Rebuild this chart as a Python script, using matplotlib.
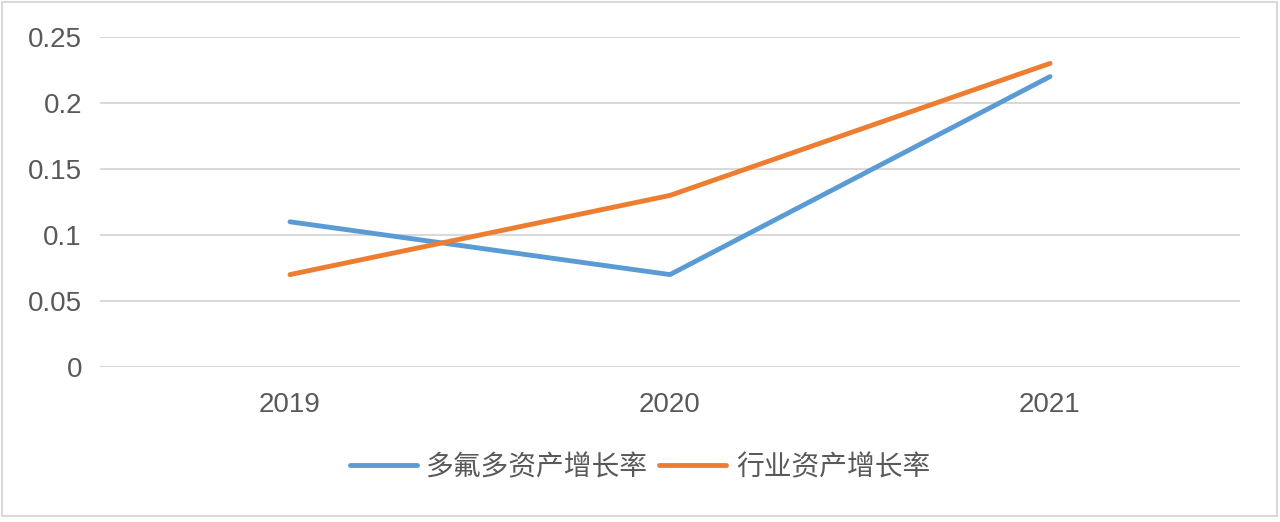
import matplotlib
matplotlib.use("Agg")
import matplotlib.pyplot as plt
from matplotlib.patches import Rectangle

plt.rcParams['font.family'] = ['Liberation Sans', 'Noto Sans CJK SC', 'DejaVu Sans']

years = ['2019', '2020', '2021']
dfd_growth = [0.11, 0.07, 0.22]
industry_growth = [0.07, 0.13, 0.23]
yticks = [0, 0.05, 0.1, 0.15, 0.2, 0.25]
ytick_labels = ['0', '0.05', '0.1', '0.15', '0.2', '0.25']

fig = plt.figure(figsize=(12.8, 5.22), dpi=100)
ax = fig.add_axes([100 / 1280, 155 / 522, 1140 / 1280, 330 / 522])

x = range(len(years))
ax.plot(x, dfd_growth, color='#5B9BD5', lw=3.5, label='多氟多资产增长率', solid_capstyle='round')
ax.plot(x, industry_growth, color='#ED7D31', lw=3.5, label='行业资产增长率', solid_capstyle='round')

ax.set_xlim(-0.5, 2.5)
ax.set_ylim(0, 0.25)
ax.set_xticks(list(x))
ax.set_xticklabels(years)
ax.set_yticks(yticks)
ax.set_yticklabels(ytick_labels)
ax.tick_params(length=0, labelsize=20, colors='#595959', pad=13)
ax.tick_params(axis='x', pad=18)
ax.grid(axis='y', color='#D9D9D9', lw=1.5)
ax.set_axisbelow(True)
for s in ax.spines.values():
    s.set_visible(False)

leg = fig.legend(loc='center', bbox_to_anchor=(0.5, 1 - 468 / 522), ncol=2, frameon=False,
                 fontsize=20, handlelength=2.4, columnspacing=0.4, handletextpad=0.35)
for t in leg.get_texts():
    t.set_color('#595959')

fig.patches.append(Rectangle((2 / 1280, 6 / 522), 1275 / 1280, 514 / 522, transform=fig.transFigure,
                             fill=False, edgecolor='#D9D9D9', lw=1.5))

fig.savefig('out.png', dpi=100)
